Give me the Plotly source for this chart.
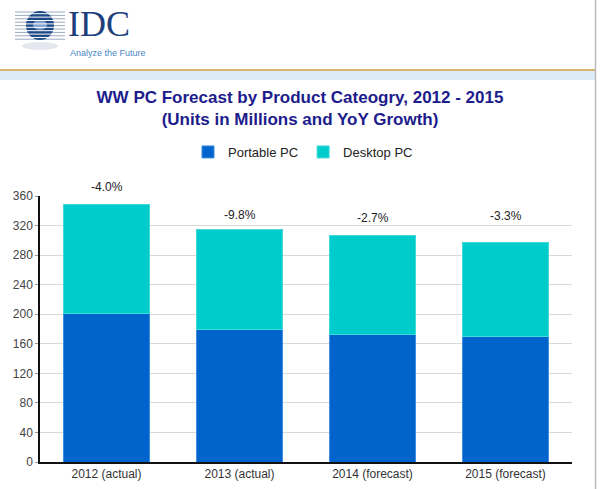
import plotly.graph_objects as go

# chart data
categories = ["2012 (actual)", "2013 (actual)", "2014 (forecast)", "2015 (forecast)"]
portable_pc = [201, 179, 173, 170]
desktop_pc = [148, 136, 133, 127]
yoy_growth = ["-4.0%", "-9.8%", "-2.7%", "-3.3%"]
y_ticks = [0, 40, 80, 120, 160, 200, 240, 280, 320, 360]

W, H = 600, 489
L, R, T, B = 40, 28, 196, 27
FONT = "Liberation Sans, Arial, sans-serif"


def px(x):
    # page pixel -> paper x
    return (x - L) / (W - L - R)


def py(y):
    # page pixel -> paper y
    return (H - B - y) / (H - T - B)


fig = go.Figure()
fig.add_trace(go.Bar(name="Portable PC", x=categories, y=portable_pc,
                     marker=dict(color="#0064CC", line=dict(color="#3D8FE0", width=1))))
fig.add_trace(go.Bar(name="Desktop PC", x=categories, y=desktop_pc,
                     marker=dict(color="#00CCCC", line=dict(color="#40DADA", width=1))))

totals = [p + d for p, d in zip(portable_pc, desktop_pc)]
label_shift = [8, 5, 9, 18]
annotations = []
for cat, tot, lab, sh in zip(categories, totals, yoy_growth, label_shift):
    annotations.append(dict(x=cat, y=tot, text=lab, showarrow=False, yanchor="bottom",
                            yshift=sh, font=dict(family=FONT, size=12, color="#222")))

# IDC logo text
annotations.append(dict(xref="paper", yref="paper", x=px(66), y=py(46), text="IDC",
                        showarrow=False, xanchor="left", yanchor="bottom",
                        font=dict(family="Liberation Serif, Times New Roman, serif",
                                  size=36, color="#1F3F7C")))
annotations.append(dict(xref="paper", yref="paper", x=px(68), y=py(46),
                        text="Analyze the Future", showarrow=False, xanchor="left",
                        yanchor="top",
                        font=dict(family=FONT, size=9, color="#4A86C5")))

shapes = []
# header rule and band
shapes.append(dict(type="rect", xref="paper", yref="paper", x0=px(0), x1=px(596),
                   y0=py(80), y1=py(71), fillcolor="#DCEAF5", line=dict(width=0),
                   layer="below"))
shapes.append(dict(type="line", xref="paper", yref="paper", x0=px(0), x1=px(596),
                   y0=py(70), y1=py(70), line=dict(color="#D8B46E", width=2)))
shapes.append(dict(type="line", xref="paper", yref="paper", x0=px(595.5), x1=px(595.5),
                   y0=py(0), y1=py(H), line=dict(color="#BBBBBB", width=1.5)))

# globe icon
shapes.append(dict(type="circle", xref="paper", yref="paper", x0=px(22), x1=px(58),
                   y0=py(50), y1=py(42), fillcolor="#E4E8EE", line=dict(width=0)))
for i in range(9):
    yy = 12 + i * 3.4
    shapes.append(dict(type="line", xref="paper", yref="paper", x0=px(15), x1=px(65),
                       y0=py(yy), y1=py(yy), line=dict(color="#9AA9C2", width=1)))
shapes.append(dict(type="circle", xref="paper", yref="paper", x0=px(26), x1=px(54),
                   y0=py(40), y1=py(11), fillcolor="#1E4A86", line=dict(width=0)))
shapes.append(dict(type="circle", xref="paper", yref="paper", x0=px(33), x1=px(47),
                   y0=py(30), y1=py(20), fillcolor="#7FA0CC", line=dict(width=0)))
for i in range(9):
    yy = 13.7 + i * 3.4
    shapes.append(dict(type="line", xref="paper", yref="paper", x0=px(25), x1=px(55),
                       y0=py(yy), y1=py(yy), line=dict(color="white", width=1)))

fig.update_layout(
    width=W, height=H,
    margin=dict(l=L, r=R, t=T, b=B, autoexpand=False),
    paper_bgcolor="white", plot_bgcolor="white",
    barmode="stack", bargap=0.346,
    font=dict(family=FONT, size=12, color="#333"),
    title=dict(text="WW PC Forecast by Product Cateogry, 2012 - 2015<br>(Units in Millions and YoY Growth)",
               x=0.5, xref="container", y=1 - 102.5 / H, yref="container",
               yanchor="middle",
               font=dict(family=FONT, size=17, color="#1C1C8C", weight="bold")),
    legend=dict(orientation="h", x=px(303), xanchor="center", y=py(152), yanchor="middle",
                font=dict(family=FONT, size=13, color="#222"), traceorder="normal",
                itemwidth=30),
    xaxis=dict(showline=True, linecolor="#111", linewidth=1.5, showgrid=False,
               tickfont=dict(size=12, color="#333")),
    yaxis=dict(range=[0, 360], tickvals=y_ticks, showline=True, linecolor="#111",
               linewidth=1.5, gridcolor="#D9D9D9", zeroline=False, ticks="outside",
               ticklen=3, tickcolor="#999", tickfont=dict(size=12, color="#444")),
    annotations=annotations,
    shapes=shapes,
)

# drop the default page margin so the figure fills the window exactly
fig.write_html("out.html", config={"displayModeBar": False},
               post_script="document.body.style.margin = '0';")
